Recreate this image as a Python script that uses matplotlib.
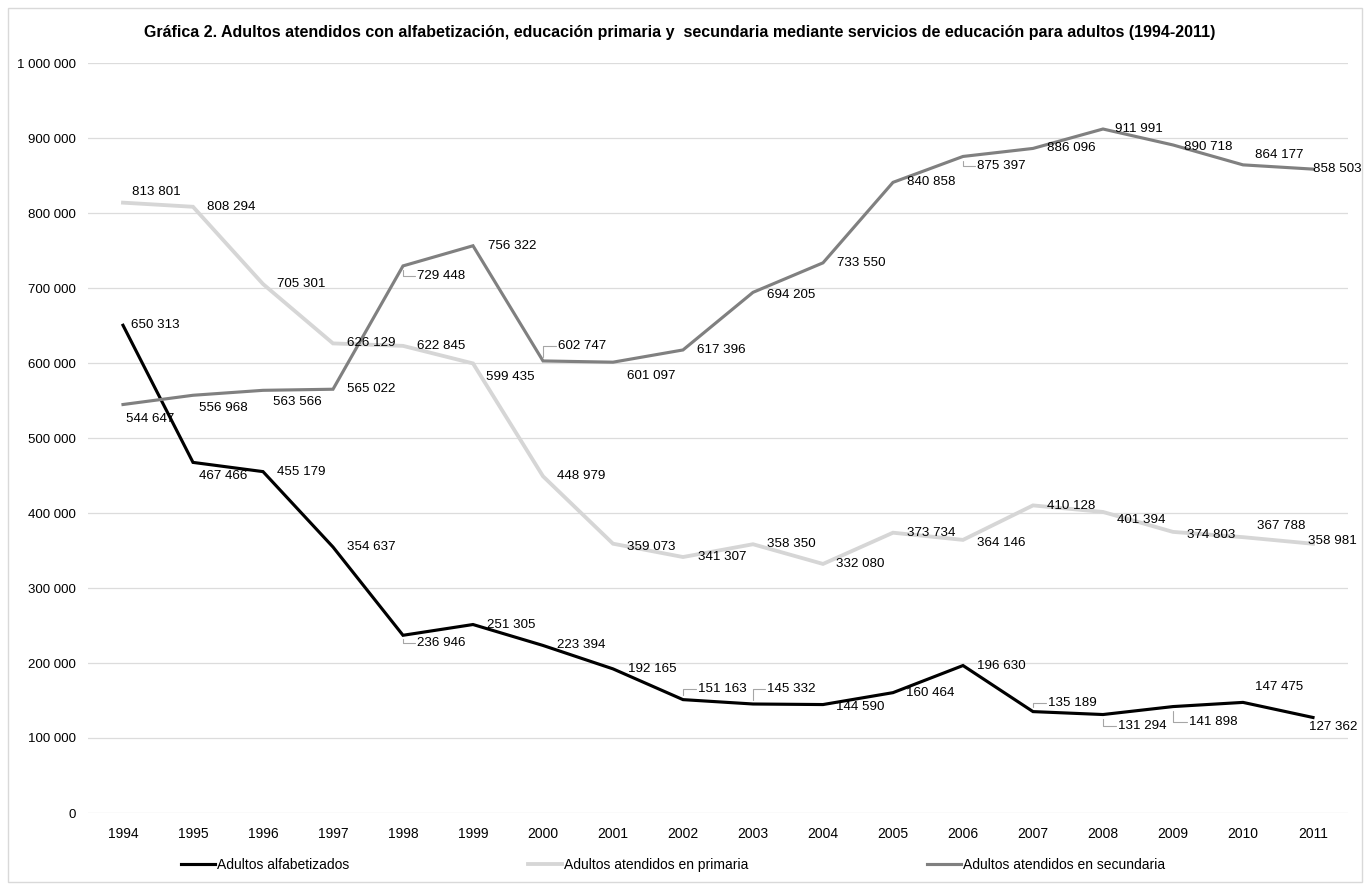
import matplotlib
matplotlib.use("Agg")
import matplotlib.pyplot as plt
from matplotlib.patches import Rectangle

plt.rcParams['font.family'] = ['Liberation Sans', 'DejaVu Sans']

# data
years = [str(y) for y in range(1994, 2012)]
alfabetizados = [650313, 467466, 455179, 354637, 236946, 251305, 223394, 192165, 151163,
                 145332, 144590, 160464, 196630, 135189, 131294, 141898, 147475, 127362]
primaria = [813801, 808294, 705301, 626129, 622845, 599435, 448979, 359073, 341307,
            358350, 332080, 373734, 364146, 410128, 401394, 374803, 367788, 358981]
secundaria = [544647, 556968, 563566, 565022, 729448, 756322, 602747, 601097, 617396,
              694205, 733550, 840858, 875397, 886096, 911991, 890718, 864177, 858503]
series_names = ["Adultos alfabetizados", "Adultos atendidos en primaria",
                "Adultos atendidos en secundaria"]
title = ("Gráfica 2. Adultos atendidos con alfabetización, educación primaria y  "
         "secundaria mediante servicios de educación para adultos (1994-2011)")

# label offsets in pixels (dx, dy) and whether a leader line is drawn
off_alf = [(8, 0), (6, -14), (14, 0), (14, 0), (14, -8), (14, 0), (14, 0), (15, 0), (15, 11),
           (14, 15), (13, -2), (13, 0), (14, 0), (15, 9), (15, -11), (16, -15), (12, 15), (-4, -10)]
lead_alf = [0, 0, 0, 0, 1, 0, 0, 0, 1, 1, 0, 0, 0, 1, 1, 1, 0, 0]
off_pri = [(9, 11), (14, 0), (14, 0), (14, 0), (14, 0), (13, -14), (14, 0), (14, -3), (15, 0),
           (14, 0), (13, 0), (14, 0), (14, -3), (14, -1), (14, -8), (14, -3), (14, 11), (-5, 3)]
lead_pri = [0] * 18
off_sec = [(3, -14), (6, -13), (10, -12), (14, 0), (14, -10), (15, 0), (15, 15), (14, -14),
           (14, 0), (14, -3), (14, 0), (14, 0), (14, -10), (14, 0), (12, 0), (11, -2), (12, 10), (0, 0)]
lead_sec = [0, 0, 0, 0, 1, 0, 1, 0, 0, 0, 0, 0, 1, 0, 0, 0, 0, 0]

fig = plt.figure(figsize=(13.68, 8.90), dpi=100)
ax = fig.add_axes([88 / 1368, 1 - 813 / 890, (1348 - 88) / 1368, 750 / 890])

x = list(range(len(years)))
ax.plot(x, alfabetizados, color="black", lw=2.25, label=series_names[0], solid_joinstyle="miter")
ax.plot(x, primaria, color="#d6d6d6", lw=2.75, label=series_names[1], solid_joinstyle="miter")
ax.plot(x, secundaria, color="#808080", lw=2.25, label=series_names[2], solid_joinstyle="miter")


def fmt(v):
    return f"{v:,}".replace(",", " ")


for vals, offs, leads in [(alfabetizados, off_alf, lead_alf),
                          (primaria, off_pri, lead_pri),
                          (secundaria, off_sec, lead_sec)]:
    for i, v in enumerate(vals):
        dx, dy = offs[i]
        ax.annotate(fmt(v), (i, v), xytext=(dx, dy), textcoords="offset pixels",
                    ha="left", va="center", fontsize=9.6, color="black", zorder=5)
        if leads[i]:
            # small bracket-shaped leader from the point to the label
            ax.annotate("", (i, v), xytext=(dx - 2, dy), textcoords="offset pixels",
                        arrowprops=dict(arrowstyle="-", color="#a6a6a6", lw=0.8,
                                        shrinkA=0, shrinkB=3,
                                        connectionstyle="angle,angleA=0,angleB=90,rad=0"))

ax.set_xlim(-0.5, len(years) - 0.5)
ax.set_ylim(0, 1000000)
ax.set_yticks(range(0, 1000001, 100000))
ax.set_yticklabels([fmt(v) for v in range(0, 1000001, 100000)])
ax.set_xticks(x)
ax.set_xticklabels(years)
ax.tick_params(axis="x", length=0, pad=10, labelsize=10)
ax.tick_params(axis="y", length=0, pad=8.5, labelsize=9.5)
ax.grid(axis="y", color="#dcdcdc", lw=0.9)
ax.set_axisbelow(True)
for s in ax.spines.values():
    s.set_visible(False)

fig.text(0.497, 1 - 33 / 890, title, ha="center", va="center", fontsize=11.5,
         fontweight="bold", family=["Liberation Sans Narrow", "Liberation Sans"])

fig.legend(loc="center", bbox_to_anchor=(0.492, 1 - 865 / 890), ncol=3, frameon=False,
           fontsize=10, handlelength=2.4, handletextpad=0.15, columnspacing=12.9)

fig.patches.append(Rectangle((8 / 1368, 8 / 890), 1354 / 1368, 874 / 890,
                             transform=fig.transFigure, fill=False,
                             edgecolor="#d9d9d9", lw=1))

fig.savefig("out.png", dpi=100)
